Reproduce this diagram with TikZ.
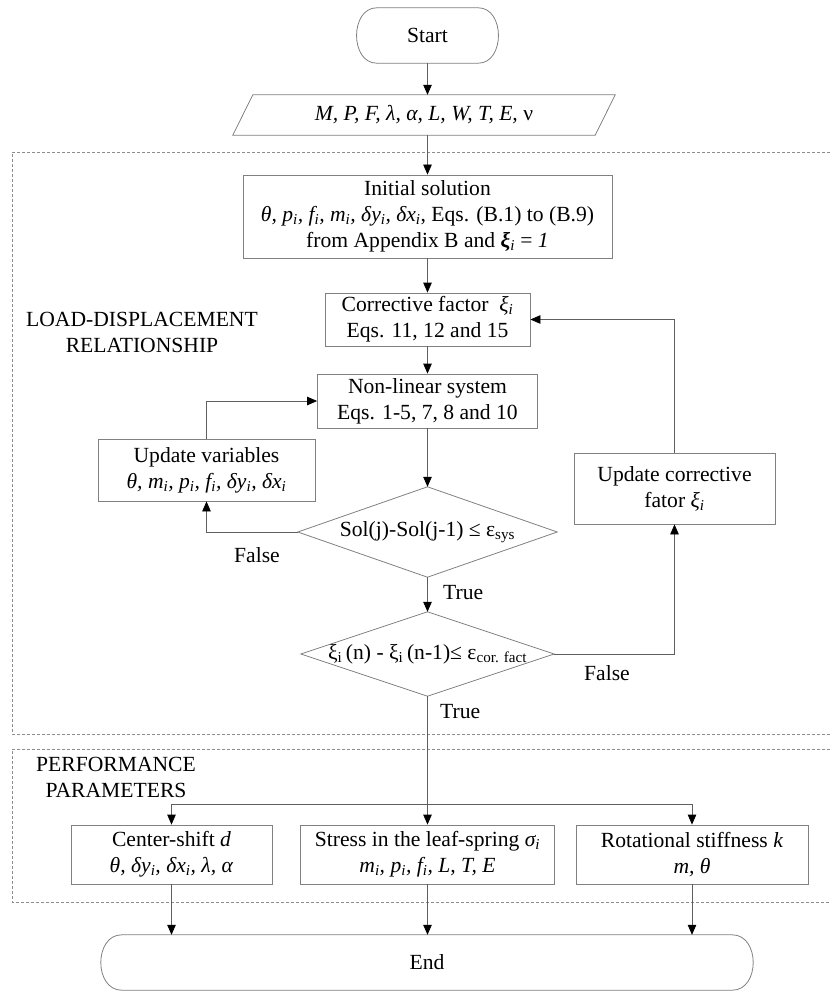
\documentclass[tikz,border=0pt]{standalone}
\usepackage{fontspec}
\setmainfont{Liberation Serif}
\usetikzlibrary{arrows.meta}
\definecolor{boxgray}{RGB}{128,128,128}
\definecolor{linegray}{RGB}{95,95,95}
\definecolor{dashgray}{RGB}{140,140,140}
\newcommand{\sbi}[1]{\textsubscript{#1}}
\begin{document}
\begin{tikzpicture}[x=1pt,y=-1pt,
  every node/.style={font=\fontsize{21.6}{26}\selectfont, inner sep=0pt},
  box/.style={draw=boxgray, line width=0.8pt, align=center},
  ghost/.style={align=center},
  shapeline/.style={draw=boxgray, line width=0.8pt},
  conn/.style={draw=linegray, line width=0.8pt, -{Triangle[length=10pt,width=8.5pt,color=black]}},
  plain/.style={draw=linegray, line width=0.8pt},
  group/.style={draw=dashgray, line width=0.8pt, dash pattern=on 3pt off 2pt}]
\useasboundingbox (0,0) rectangle (830,992);

% groups
\draw[group] (830,152) -- (12,152) -- (12,734) -- (830,734);
\draw[group] (830,749) -- (12,749) -- (12,902) -- (830,902);

% start
\node[ghost, minimum width=101pt, minimum height=55pt] (start) at (427.5,35.5) {Start};
\draw[shapeline] (start.north west) -- (start.north east) .. controls +(27,0) and +(27,0) .. (start.south east) -- (start.south west) .. controls +(-27,0) and +(-27,0) .. (start.north west) -- cycle;

% input
\node[ghost, minimum width=362pt, minimum height=40pt] (inp) at (424,115) {\textit{M, P, F, λ, α, L, W, T, E,} ν};
\draw[shapeline] ([xshift=10pt]inp.north west) -- ([xshift=10pt]inp.north east) -- ([xshift=-10pt]inp.south east) -- ([xshift=-10pt]inp.south west) -- cycle;

% boxes
\node[box, minimum width=369pt, minimum height=83pt] (init) at (427.5,216.5)
  {Initial solution\\ \textit{θ, p\sbi{i}, f\sbi{i}, m\sbi{i}, δy\sbi{i}, δx\sbi{i}}, Eqs. (B.1) to (B.9)\\ from Appendix B and \textbf{\textit{ξ}}\sbi{\textit{i}} = \textit{1}};
\node[box, minimum width=205pt, minimum height=53pt] (corr) at (427.5,319.5)
  {Corrective factor \ \textit{ξ}\sbi{\textit{i}}\\ Eqs. 11, 12 and 15};
\node[box, minimum width=220pt, minimum height=54pt] (nl) at (427.5,401)
  {Non-linear system\\ Eqs. 1-5, 7, 8 and 10};
\node[box, minimum width=217pt, minimum height=62pt] (uv) at (206.5,470)
  {Update variables\\ \textit{θ, m\sbi{i}, p\sbi{i}, f\sbi{i}, δy\sbi{i}, δx\sbi{i}}};
\node[box, minimum width=201pt, minimum height=71pt] (uc) at (674.5,488.5)
  {Update corrective\\ fator \textit{ξ}\sbi{\textit{i}}};

% diamonds
\node[ghost, minimum width=259pt, minimum height=90pt] (d1) at (427.5,532)
  {Sol(j)-Sol(j-1) ≤ ε\sbi{sys}};
\draw[shapeline] (d1.north) -- (d1.east) -- (d1.south) -- (d1.west) -- cycle;
\node[ghost, minimum width=253pt, minimum height=84pt] (d2) at (427.5,654)
  {ξ\sbi{i}\,(n) - ξ\sbi{i}\,(n-1)≤ ε\sbi{cor. fact}};
\draw[shapeline] (d2.north) -- (d2.east) -- (d2.south) -- (d2.west) -- cycle;

% bottom boxes
\node[box, minimum width=201pt, minimum height=59pt] (b1) at (171.5,854.5)
  {Center-shift \textit{d}\\ \textit{θ, δy\sbi{i}, δx\sbi{i}, λ, α}};
\node[box, minimum width=254pt, minimum height=59pt] (b2) at (427.5,854.5)
  {Stress in the leaf-spring \textit{σ\sbi{i}}\\ \textit{m\sbi{i}, p\sbi{i}, f\sbi{i}, L, T, E}};
\node[box, minimum width=232pt, minimum height=59pt] (b3) at (692,854.5)
  {Rotational stiffness \textit{k}\\ \textit{m, θ}};

% end
\node[ghost, minimum width=610pt, minimum height=55pt] (endn) at (427,962.5) {End};
\draw[shapeline] (endn.north west) -- (endn.north east) .. controls +(28,0) and +(28,0) .. (endn.south east) -- (endn.south west) .. controls +(-28,0) and +(-28,0) .. (endn.north west) -- cycle;

% labels
\node[align=center] (ldr) at (142,332) {LOAD-DISPLACEMENT\\RELATIONSHIP};
\node[align=center] (pp) at (116,777.5) {PERFORMANCE\\PARAMETERS};
\node (f1) at (257,555) {False};
\node[anchor=west] (t1) at (443,593) {True};
\node (f2) at (607,673) {False};
\node[anchor=west] (t2) at (440,712) {True};

% connectors
\draw[conn] (start.south) -- (start.south |- inp.north);
\draw[conn] (init.north |- inp.south) -- (init.north);
\draw[conn] (init.south) -- (corr.north);
\draw[conn] (corr.south) -- (nl.north);
\draw[conn] (nl.south) -- (d1.north);
\draw[conn] (d1.south) -- (d2.north);
\draw[conn] (d1.west) -| (uv.south);
\draw[conn] (uv.north) |- (nl.west);
\draw[conn] (d2.east) -| (uc.south);
\draw[conn] (uc.north) |- (corr.east);
\coordinate (split) at (427.5,804);
\draw[conn] (d2.south) -- (b2.north);
\draw[conn] (split) -| (b1.north);
\draw[conn] (split) -| (b3.north);
\draw[conn] (b1.south) -- (b1.south |- endn.north);
\draw[conn] (b2.south) -- (b2.south |- endn.north);
\draw[conn] (b3.south) -- (b3.south |- endn.north);
\end{tikzpicture}
\end{document}
